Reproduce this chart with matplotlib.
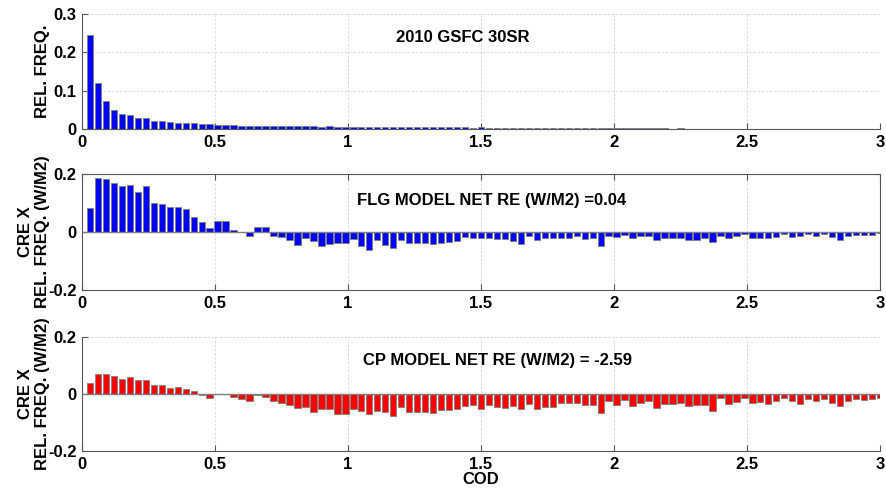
import numpy as np
import matplotlib
matplotlib.use("Agg")
import matplotlib.pyplot as plt

plt.rcParams["font.family"] = ["Liberation Sans", "DejaVu Sans"]
plt.rcParams["font.weight"] = "bold"

# bin centres (COD)
cod = np.arange(1, 101) * 0.03

rel_freq = [0.244, 0.120, 0.072, 0.050, 0.040, 0.036, 0.029, 0.028, 0.021, 0.021,
            0.018, 0.016, 0.016, 0.015, 0.012, 0.012, 0.011, 0.010, 0.010, 0.009,
            0.009, 0.008, 0.008, 0.007, 0.008, 0.007, 0.007, 0.007, 0.007, 0.006,
            0.007, 0.006, 0.006, 0.006, 0.005, 0.006, 0.005, 0.005, 0.005, 0.005,
            0.005, 0.004, 0.004, 0.004, 0.004, 0.004, 0.004, 0.004, 0.003, 0.004,
            0.003, 0.003, 0.003, 0.003, 0.003, 0.003, 0.003, 0.003, 0.002, 0.003,
            0.002, 0.002, 0.002, 0.002, 0.002, 0.002, 0.002, 0.002, 0.002, 0.002,
            0.002, 0.002, 0.002, 0.001, 0.002, 0.001, 0.001, 0.001, 0.001, 0.001,
            0.001, 0.001, 0.001, 0.001, 0.001, 0.001, 0.001, 0.001, 0.001, 0.001,
            0.001, 0.001, 0.001, 0.001, 0.001, 0.001, 0.001, 0.001, 0.001, 0.001]

flg_re = [0.082, 0.186, 0.183, 0.170, 0.159, 0.162, 0.138, 0.158, 0.099, 0.097,
          0.087, 0.086, 0.078, 0.051, 0.034, 0.013, 0.037, 0.039, 0.006, -0.001,
          -0.013, 0.018, 0.016, -0.014, -0.017, -0.026, -0.045, -0.019, -0.032, -0.048,
          -0.040, -0.039, -0.039, -0.025, -0.048, -0.062, -0.029, -0.045, -0.054, -0.027,
          -0.039, -0.038, -0.037, -0.042, -0.037, -0.033, -0.031, -0.016,
          -0.022, -0.022, -0.022, -0.024, -0.024, -0.030, -0.042, -0.013, -0.026, -0.022,
          -0.022, -0.022, -0.022, -0.013, -0.024, -0.019, -0.047, -0.013, -0.016, -0.010,
          -0.022, -0.013, -0.013, -0.026, -0.022, -0.022, -0.022, -0.026, -0.026, -0.022,
          -0.035, -0.013, -0.019, -0.015, -0.008, -0.022, -0.019, -0.019, -0.017, -0.008,
          -0.017, -0.015, -0.008, -0.013, -0.008, -0.017, -0.026, -0.015, -0.009, -0.009,
          -0.009, -0.004]

cp_re = [0.037, 0.071, 0.070, 0.063, 0.053, 0.058, 0.048, 0.050, 0.033, 0.030,
         0.021, 0.026, 0.017, 0.010, -0.002, -0.013, 0.000, 0.001, -0.010, -0.016,
         -0.023, -0.002, -0.012, -0.024, -0.030, -0.040, -0.048, -0.045, -0.063, -0.052,
         -0.052, -0.069, -0.069, -0.053, -0.059, -0.071, -0.060, -0.063, -0.076, -0.047,
         -0.062, -0.063, -0.063, -0.065, -0.055, -0.055, -0.052, -0.042,
         -0.037, -0.051, -0.040, -0.045, -0.048, -0.043, -0.052, -0.036, -0.053, -0.044,
         -0.044, -0.031, -0.033, -0.031, -0.040, -0.040, -0.065, -0.023, -0.037, -0.022,
         -0.043, -0.030, -0.023, -0.048, -0.035, -0.035, -0.030, -0.043, -0.040, -0.038,
         -0.060, -0.014, -0.036, -0.028, -0.013, -0.033, -0.029, -0.035, -0.024, -0.013,
         -0.024, -0.034, -0.019, -0.023, -0.016, -0.030, -0.041, -0.026, -0.016, -0.020,
         -0.016, -0.015]

xticks = [0, 0.5, 1, 1.5, 2, 2.5, 3]
xticklabels = ["0", "0.5", "1", "1.5", "2", "2.5", "3"]

FS = 12

fig = plt.figure(figsize=(8.86, 4.95), dpi=100)
L, W = 82 / 886, 798 / 886
ax1 = fig.add_axes([L, 1 - 129 / 495, W, 115 / 495])
ax2 = fig.add_axes([L, 1 - 290 / 495, W, 116 / 495])
ax3 = fig.add_axes([L, 1 - 451 / 495, W, 114 / 495])

edge = "#7f7f7f"
spine_c = "#555555"


def style(ax, box):
    ax.set_xlim(0, 3)
    ax.set_xticks(xticks)
    ax.set_xticklabels(xticklabels, fontsize=FS, fontweight="bold")
    ax.tick_params(direction="in", length=4, color=spine_c, pad=4,
                   top=box, right=box, labelsize=FS)
    ax.grid(True, color="#d4d4d4", linestyle=(0, (3, 2)), linewidth=0.6)
    ax.set_axisbelow(True)
    for s in ax.spines.values():
        s.set_color(spine_c)
        s.set_linewidth(0.8)
    if not box:
        ax.spines["top"].set_visible(False)
        ax.spines["right"].set_visible(False)


# top: relative frequency
ax1.bar(cod, rel_freq, width=0.024, color="#0000ff", edgecolor=edge, linewidth=0.6)
style(ax1, False)
ax1.set_ylim(0, 0.3)
ax1.set_yticks([0, 0.1, 0.2, 0.3])
ax1.set_yticklabels(["0", "0.1", "0.2", "0.3"])
ax1.set_ylabel("REL. FREQ.", fontsize=FS, fontweight="bold")
ax1.yaxis.set_label_coords(-0.040, 0.5)
ax1.text(1.18, 0.24, "2010 GSFC 30SR", fontsize=FS, fontweight="bold", va="center")

# middle: FLG model
ax2.bar(cod, flg_re, width=0.024, color="#0000ff", edgecolor=edge, linewidth=0.6)
style(ax2, True)
ax2.axhline(0, color=edge, linewidth=1)
ax2.set_ylim(-0.2, 0.2)
ax2.set_yticks([-0.2, 0, 0.2])
ax2.set_yticklabels(["-0.2", "0", "0.2"])
ax2.set_ylabel("CRE X\nREL. FREQ. (W/M2)", fontsize=FS, fontweight="bold", linespacing=1.15)
ax2.yaxis.set_label_coords(-0.040, 0.5)
ax2.text(1.035, 0.107, "FLG MODEL NET RE (W/M2) =0.04", fontsize=FS,
         fontweight="bold", va="center")

# bottom: CP model
ax3.bar(cod, cp_re, width=0.024, color="#ff0000", edgecolor=edge, linewidth=0.6)
style(ax3, False)
ax3.axhline(0, color=edge, linewidth=1)
ax3.set_ylim(-0.2, 0.2)
ax3.set_yticks([-0.2, 0, 0.2])
ax3.set_yticklabels(["-0.2", "0", "0.2"])
ax3.set_ylabel("CRE X\nREL. FREQ. (W/M2)", fontsize=FS, fontweight="bold", linespacing=1.15)
ax3.yaxis.set_label_coords(-0.040, 0.5)
ax3.set_xlabel("COD", fontsize=FS, fontweight="bold", labelpad=0)
ax3.text(1.055, 0.117, "CP MODEL NET RE (W/M2) = -2.59", fontsize=FS,
         fontweight="bold", va="center")

fig.savefig("out.png", dpi=100)
